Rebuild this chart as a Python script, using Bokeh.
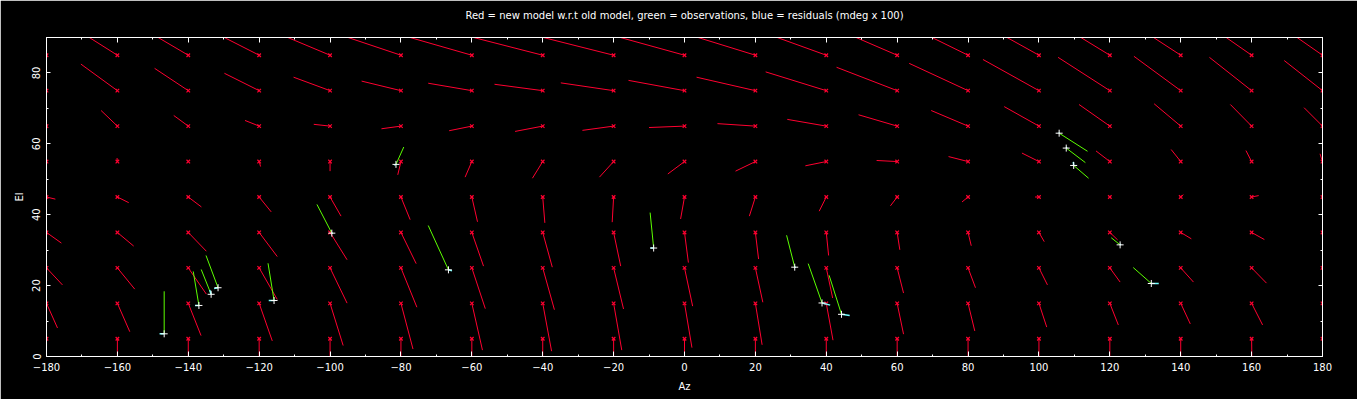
from bokeh.plotting import figure
from bokeh.models import Range1d, FixedTicker, LinearAxis
from bokeh.embed import file_html
from bokeh.resources import INLINE

title_text = "Red = new model w.r.t old model, green = observations, blue = residuals (mdeg x 100)"

az_grid = [-180, -160, -140, -120, -100, -80, -60, -40, -20, 0, 20, 40, 60, 80, 100, 120, 140, 160, 180]
el_grid = [5, 15, 25, 35, 45, 55, 65, 75, 85]

# red vectors: new model w.r.t. old model, (dAz, dEl) per elevation row
daz_el85 = [-8.6, -9.5, -10.2, -11.8, -14.3, -17.9, -20.9, -23.4, -23.8, -21.7, -19.4, -16.6, -13.9, -12.2, -10.8, -9.8, -9.2, -8.6, -8.6]
del_el85 = [6.0] * 19
daz_el75 = [-10.8, -10.3, -9.5, -9.8, -10.3, -11.1, -12.3, -13.6, -14.9, -15.8, -16.6, -17.1, -17.1, -16.6, -15.8, -14.6, -13.2, -11.9, -10.8]
del_el75 = [8.5, 7.5, 6.3, 4.9, 3.8, 2.7, 2.1, 1.8, 2.2, 2.9, 3.8, 5.3, 6.6, 7.7, 8.8, 9.4, 9.7, 9.4, 8.5]
daz_el65 = [-5.2, -4.6, -4.1, -4.0, -4.6, -5.5, -6.4, -7.8, -8.8, -10.0, -10.7, -11.0, -10.9, -10.4, -9.8, -8.7, -7.5, -6.0, -5.2]
del_el65 = [5.2, 4.4, 3.0, 1.6, 0.5, -0.75, -1.3, -1.5, -1.2, -0.4, 0.7, 1.9, 3.2, 4.4, 5.5, 6.1, 6.3, 6.1, 5.2]
daz_el55 = [-0.7, -0.1, 0.1, 0.4, 0.0, -0.9, -1.9, -2.9, -4.0, -4.7, -5.6, -5.9, -5.8, -5.5, -4.8, -3.9, -2.7, -1.6, -0.7]
del_el55 = [2.2, 1.0, 0.2, -1.4, -2.7, -3.75, -4.4, -4.7, -4.4, -3.5, -2.7, -1.2, 0.3, 1.4, 2.4, 3.0, 3.4, 3.1, 2.2]
daz_el45 = [2.5, 3.2, 3.7, 3.4, 3.1, 2.6, 1.6, 0.6, -0.4, -1.1, -1.7, -2.0, -1.9, -1.7, -1.1, 0.1, 0.75, 2.0, 2.5]
del_el45 = [-0.6, -1.6, -2.8, -4.2, -5.4, -6.4, -7.0, -7.3, -7.1, -6.2, -5.4, -4.0, -2.5, -1.4, 0.0, 0.0, 0.66, 0.4, -0.6]
daz_el35 = [4.2, 4.6, 5.1, 5.1, 4.8, 4.3, 3.3, 2.7, 2.0, 1.1, 0.9, 0.66, 0.75, 0.9, 1.5, 2.2, 3.0, 3.6, 4.2]
del_el35 = [-3.0, -3.85, -5.3, -6.8, -7.7, -8.8, -9.5, -9.8, -9.5, -8.5, -7.5, -6.5, -4.9, -3.75, -2.6, -2.1, -1.8, -2.0, -3.0]
daz_el25 = [4.5, 4.9, 5.1, 5.1, 4.8, 4.5, 3.8, 3.3, 2.8, 2.3, 2.1, 1.8, 1.8, 2.1, 2.4, 2.9, 3.6, 4.2, 4.5]
del_el25 = [-4.8, -6.0, -7.4, -8.9, -9.95, -11.1, -11.5, -11.8, -11.6, -10.8, -9.7, -8.5, -7.1, -5.6, -4.8, -4.0, -4.0, -4.3, -4.8]
daz_el15 = [3.1, 3.5, 3.6, 3.7, 3.7, 3.4, 3.0, 2.5, 2.3, 2.1, 1.9, 1.9, 1.8, 1.9, 2.2, 2.4, 2.7, 3.1, 3.1]
del_el15 = [-6.95, -8.0, -9.1, -10.6, -11.9, -12.9, -13.2, -13.5, -13.2, -12.5, -11.7, -10.4, -8.7, -7.8, -6.7, -6.1, -5.8, -6.1, -6.95]
daz_el5 = [0.0, 0.0, 0.0, 0.0, 0.0, 0.0, 0.0, 0.0, 0.0, 0.0, 0.0, 0.0, 0.0, 0.0, 0.0, 0.0, 0.0, 0.1, 0.0]
del_el5 = [-8.0] * 19

# observations (white crosses), green = observed offsets, blue = residuals
obs_az = [-146.8, -137.0, -133.55, -131.6, -115.8, -99.5, -81.4, -66.6, -8.7, 31.1, 38.8, 44.3, 105.7, 107.7, 109.8, 122.9, 131.7]
obs_el = [6.4, 14.4, 17.55, 19.4, 15.8, 34.8, 54.2, 24.45, 30.6, 25.2, 15.1, 11.9, 63.0, 58.8, 53.9, 31.5, 20.6]
obs_daz = [0.0, -1.6, -2.8, -3.4, -1.7, -4.2, 2.2, -5.7, -1.0, -2.3, -3.9, -3.5, 8.0, 5.4, 4.2, -2.5, -5.1]
obs_del = [12.0, 9.6, 7.0, 9.1, 10.5, 8.1, 4.9, 12.5, 10.0, 9.0, 11.1, 11.0, -5.1, -4.1, -3.6, 2.0, 4.5]
res_daz = [-1.3, -1.1, -0.4, -1.1, -1.5, 0.3, -0.5, 1.0, -0.9, 0.3, 2.3, 2.3, 0.0, 0.2, -0.1, 0.2, 2.1]
res_del = [0.0, 0.0, 1.2, -0.2, 0.0, 0.0, -0.2, -0.3, 0.0, 0.0, -0.6, -0.3, 0.2, 0.3, 1.0, 0.2, 0.0]

xtick_vals = [-180, -160, -140, -120, -100, -80, -60, -40, -20, 0, 20, 40, 60, 80, 100, 120, 140, 160, 180]
xtick_labels = ["\u2212180", "\u2212160", "\u2212140", "\u2212120", "\u2212100", "\u221280", "\u221260", "\u221240", "\u221220",
                "0", "20", "40", "60", "80", "100", "120", "140", "160", "180"]
xminor_vals = [-170, -150, -130, -110, -90, -70, -50, -30, -10, 10, 30, 50, 70, 90, 110, 130, 150, 170]
ytick_vals = [0, 20, 40, 60, 80]
ytick_labels = ["0", "20", "40", "60", "80"]
yminor_vals = [10, 30, 50, 70, 90]

rows = [
    (5, daz_el5, del_el5), (15, daz_el15, del_el15), (25, daz_el25, del_el25),
    (35, daz_el35, del_el35), (45, daz_el45, del_el45), (55, daz_el55, del_el55),
    (65, daz_el65, del_el65), (75, daz_el75, del_el75), (85, daz_el85, del_el85),
]

x0, y0, x1, y1 = [], [], [], []
for el, daz, dele in rows:
    for a, dx, dy in zip(az_grid, daz, dele):
        x0.append(a)
        y0.append(el)
        x1.append(a + dx)
        y1.append(el + dy)

RED = "#ff0030"
GREEN = "#5cff00"
CYAN = "#70ffff"
FONT = "DejaVu Sans"

p = figure(width=1357, height=399, x_range=Range1d(-180, 180), y_range=Range1d(0, 90),
           output_backend="svg", toolbar_location=None,
           background_fill_color="black", border_fill_color="black",
           outline_line_color="white",
           min_border_left=46, min_border_right=35, min_border_top=37, min_border_bottom=43)
p.grid.visible = False

p.segment(x0, y0, x1, y1, line_color=RED, line_width=1)
p.scatter(x0, y0, marker="x", size=5, line_color=RED, line_width=1.2)

gx1 = [a + d for a, d in zip(obs_az, obs_daz)]
gy1 = [e + d for e, d in zip(obs_el, obs_del)]
p.segment(obs_az, obs_el, gx1, gy1, line_color=GREEN, line_width=1)
rx1 = [a + d for a, d in zip(obs_az, res_daz)]
ry1 = [e + d for e, d in zip(obs_el, res_del)]
p.segment(obs_az, obs_el, rx1, ry1, line_color=CYAN, line_width=1.5)
p.scatter(obs_az, obs_el, marker="cross", size=7, line_color="white", line_width=1)

def style_axis(ax, ticks, minors, labels, show_labels, tick_in):
    ax.ticker = FixedTicker(ticks=ticks, minor_ticks=minors)
    ax.axis_line_color = "white"
    ax.major_tick_line_color = "white"
    ax.minor_tick_line_color = "white"
    ax.major_tick_in = tick_in
    ax.major_tick_out = 0
    ax.minor_tick_in = 2
    ax.minor_tick_out = 0
    ax.axis_label_text_color = "white"
    ax.axis_label_text_font = FONT
    ax.axis_label_text_font_size = "10px"
    ax.axis_label_text_font_style = "normal"
    if show_labels:
        ax.major_label_overrides = dict(zip(ticks, labels))
        ax.major_label_text_color = "white"
        ax.major_label_text_font = FONT
        ax.major_label_text_font_size = "10px"
    else:
        ax.major_label_text_color = None
        ax.major_label_standoff = 0

xb = p.xaxis[0]
style_axis(xb, xtick_vals, xminor_vals, xtick_labels, True, 5)
xb.axis_label = "Az"
xb.major_label_standoff = 6
xb.axis_label_standoff = 7

yl = p.yaxis[0]
style_axis(yl, ytick_vals, yminor_vals, ytick_labels, True, 4)
yl.axis_label = "El"
yl.major_label_orientation = "vertical"
yl.major_label_standoff = 6
yl.axis_label_standoff = 5

xt = LinearAxis()
style_axis(xt, xtick_vals, xminor_vals, xtick_labels, False, 5)
xt.axis_label = title_text
xt.axis_label_standoff = 17
p.add_layout(xt, "above")
yr = LinearAxis()
style_axis(yr, ytick_vals, yminor_vals, ytick_labels, False, 4)
p.add_layout(yr, "right")

open("out.html", "w").write(file_html(p, INLINE))
